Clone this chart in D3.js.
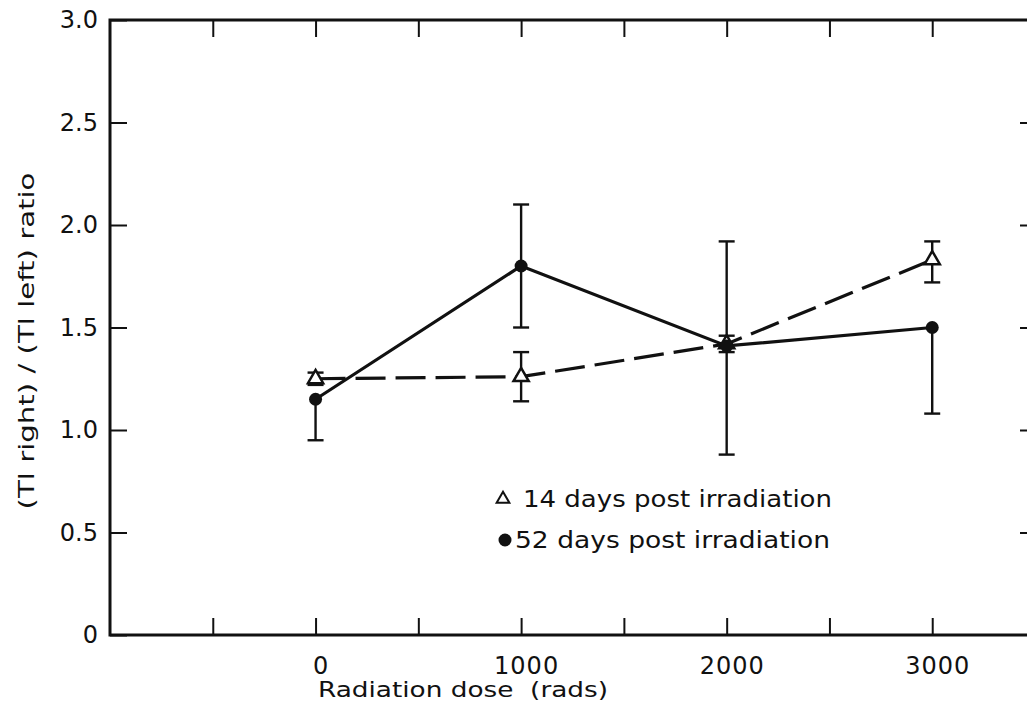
<!DOCTYPE html>
<html>
<head>
<meta charset="utf-8">
<script src="https://cdn.jsdelivr.net/npm/d3@7"></script>
<style>
  html, body { margin: 0; padding: 0; background: #fff; }
  svg { display: block; }
  text { font-family: "DejaVu Sans", "Open Sans", sans-serif; fill: #111; }
</style>
</head>
<body>
<svg id="chart" width="1027" height="710"></svg>
<script>
// ---- data ----
const doses = [0, 1000, 2000, 3000];
const ratio14 = [1.25, 1.26, 1.42, 1.83];
const err14Low = [1.22, 1.14, 1.38, 1.72];
const err14High = [1.28, 1.38, 1.46, 1.92];
const ratio52 = [1.15, 1.80, 1.41, 1.50];
const err52Low = [0.95, 1.50, 0.88, 1.08];
const err52High = [1.15, 2.10, 1.92, 1.50];
const xTicks = [-500, 0, 500, 1000, 1500, 2000, 2500, 3000];
const xTickLabels = ["", "0", "", "1000", "", "2000", "", "3000"];
const yTicks = [0, 0.5, 1.0, 1.5, 2.0, 2.5, 3.0];
const yTickLabels = ["0", "0.5", "1.0", "1.5", "2.0", "2.5", "3.0"];
const legendLabels = ["14 days post irradiation", "52 days post irradiation"];
const xTitle = "Radiation dose  (rads)";
const yTitle = "(Tl right) / (Tl left) ratio";

// ---- layout ----
const svg = d3.select("#chart");
const L = 110, R = 1035, T = 20, B = 635;
const x = d3.scaleLinear().domain([-1000, 3500]).range([L, R]);
const y = d3.scaleLinear().domain([0, 3]).range([B, T]);
const ink = "#111";

// frame
svg.append("rect").attr("x", L).attr("y", T).attr("width", R - L).attr("height", B - T)
  .attr("fill", "none").attr("stroke", ink).attr("stroke-width", 3);

// axes
const styleAxis = g => {
  g.select(".domain").remove();
  g.selectAll(".tick line").attr("stroke", ink).attr("stroke-width", 2);
  g.selectAll(".tick text").attr("fill", ink).style("font-family", "'DejaVu Sans', sans-serif");
};
const xLab = d => xTickLabels[xTicks.indexOf(d)];
const yLab = d => yTickLabels[yTicks.indexOf(d)];

svg.append("g").attr("transform", `translate(0,${B})`)
  .call(d3.axisBottom(x).tickValues(xTicks).tickSize(-17).tickPadding(22).tickFormat(xLab))
  .call(styleAxis)
  .call(g => g.selectAll(".tick text").attr("font-size", 24).attr("dx", 5).style("letter-spacing", "1px"));
svg.append("g").attr("transform", `translate(0,${T})`)
  .call(d3.axisTop(x).tickValues(xTicks).tickSize(-17).tickFormat(() => ""))
  .call(styleAxis);
svg.append("g").attr("transform", `translate(${L},0)`)
  .call(d3.axisLeft(y).tickValues(yTicks).tickSize(-17).tickPadding(12).tickFormat(yLab))
  .call(styleAxis)
  .call(g => g.selectAll(".tick text").attr("font-size", 24));
svg.append("g").attr("transform", `translate(${R},0)`)
  .call(d3.axisRight(y).tickValues(yTicks.filter(v => v > 0 && v < 3)).tickSize(-15).tickFormat(() => ""))
  .call(styleAxis);

// lines
const line = d3.line().x(d => x(d[0])).y(d => y(d[1]));
const pts14 = doses.map((d, i) => [d, ratio14[i]]);
const pts52 = doses.map((d, i) => [d, ratio52[i]]);
svg.append("path").datum(pts14).attr("d", line).attr("fill", "none")
  .attr("stroke", ink).attr("stroke-width", 3.2).attr("stroke-dasharray", "30,10");
svg.append("path").datum(pts52).attr("d", line).attr("fill", "none")
  .attr("stroke", ink).attr("stroke-width", 3.2);

// error bars: caps only where the bar extends beyond the point
function errBars(vals, lows, highs) {
  const g = svg.append("g").attr("stroke", ink).attr("stroke-width", 2.4);
  doses.forEach((d, i) => {
    const cx = x(d);
    g.append("line").attr("x1", cx).attr("x2", cx).attr("y1", y(lows[i])).attr("y2", y(highs[i]));
    if (lows[i] < vals[i])
      g.append("line").attr("x1", cx - 8).attr("x2", cx + 8).attr("y1", y(lows[i])).attr("y2", y(lows[i]));
    if (highs[i] > vals[i])
      g.append("line").attr("x1", cx - 8).attr("x2", cx + 8).attr("y1", y(highs[i])).attr("y2", y(highs[i]));
  });
}
errBars(ratio14, err14Low, err14High);
errBars(ratio52, err52Low, err52High);

// markers
const tri = d3.symbol().type(d3.symbolTriangle).size(100);
svg.append("g").selectAll("path").data(pts14).join("path")
  .attr("d", tri).attr("transform", d => `translate(${x(d[0])},${y(d[1])})`)
  .attr("fill", "#fff").attr("stroke", ink).attr("stroke-width", 2.5);
svg.append("g").selectAll("circle").data(pts52).join("circle")
  .attr("cx", d => x(d[0])).attr("cy", d => y(d[1])).attr("r", 6.5).attr("fill", ink);

// legend
svg.append("path").attr("d", d3.symbol().type(d3.symbolTriangle).size(70))
  .attr("transform", "translate(503,499)").attr("fill", "#fff").attr("stroke", ink).attr("stroke-width", 2);
svg.append("circle").attr("cx", 505).attr("cy", 540).attr("r", 6.5).attr("fill", ink);
svg.append("text").attr("x", 523).attr("y", 507).attr("font-size", 23)
  .attr("textLength", 309).attr("lengthAdjust", "spacingAndGlyphs").text(legendLabels[0]);
svg.append("text").attr("x", 515).attr("y", 548).attr("font-size", 23)
  .attr("textLength", 315).attr("lengthAdjust", "spacingAndGlyphs").text(legendLabels[1]);

// axis titles
svg.append("text").attr("x", 318).attr("y", 697).attr("font-size", 21)
  .attr("textLength", 290).attr("lengthAdjust", "spacingAndGlyphs").style("white-space", "pre").text(xTitle);
svg.append("text").attr("transform", "translate(34,341) rotate(-90)").attr("text-anchor", "middle")
  .attr("font-size", 21).attr("textLength", 337).attr("lengthAdjust", "spacingAndGlyphs").text(yTitle);
</script>
</body>
</html>
